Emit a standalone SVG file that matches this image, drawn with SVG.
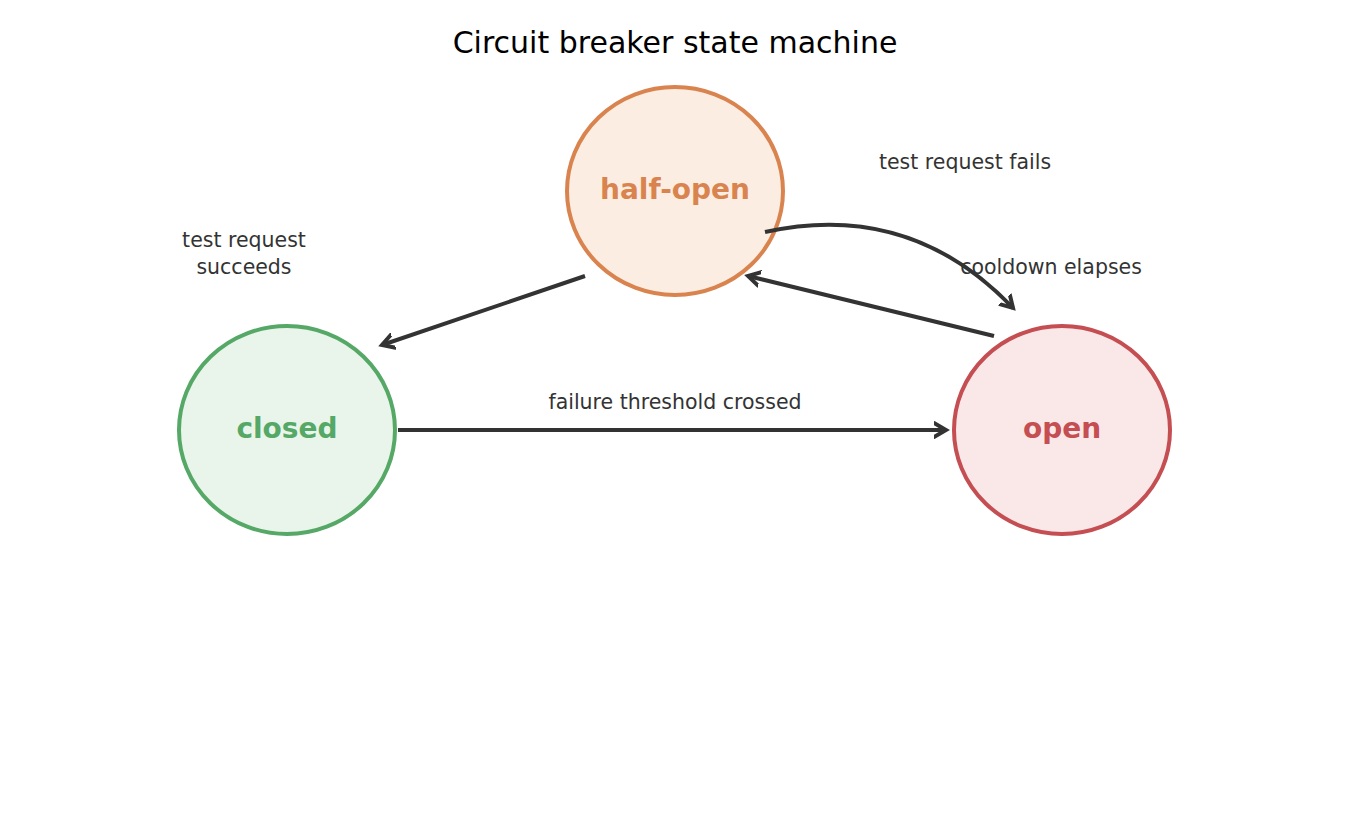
<svg xmlns="http://www.w3.org/2000/svg" width="1350" height="825" viewBox="0 0 1350 825">
<style>
.t{font-family:"DejaVu Sans",sans-serif;fill:#333;font-size:20.5px;text-anchor:middle}
.n{font-family:"DejaVu Sans",sans-serif;font-weight:bold;font-size:28px;text-anchor:middle}
.e{fill:none;stroke:#333;stroke-width:4}
</style>
<defs>
<marker id="a" viewBox="-12 -12 24 24" refX="0" refY="0" markerWidth="24" markerHeight="24" orient="auto" markerUnits="userSpaceOnUse">
<path d="M-12,-7 L0,0 L-12,7" fill="none" stroke="#333" stroke-width="4" stroke-linecap="round" stroke-linejoin="miter"/>
</marker>
</defs>
<rect width="1350" height="825" fill="#fff"/>
<text x="675" y="53" font-family="DejaVu Sans,sans-serif" font-size="30" text-anchor="middle" fill="#000">Circuit breaker state machine</text>
<g id="half-open"><ellipse cx="675" cy="191" rx="108" ry="104" fill="#fcede3" stroke="#d9844f" stroke-width="4"/><text class="n" x="675" y="199" fill="#d9844f">half-open</text></g>
<g id="closed"><ellipse cx="287" cy="430" rx="108" ry="104" fill="#e9f5ea" stroke="#55a866" stroke-width="4"/><text class="n" x="287" y="438" fill="#55a866">closed</text></g>
<g id="open"><ellipse cx="1062" cy="430" rx="108" ry="104" fill="#fae8e8" stroke="#c44e52" stroke-width="4"/><text class="n" x="1062" y="438" fill="#c44e52">open</text></g>
<g id="connectors">
<path class="e" d="M398,430 L946,430" marker-end="url(#a)"/>
<path class="e" d="M994,336 L748,276" marker-end="url(#a)"/>
<path class="e" d="M585,276 L382,345" marker-end="url(#a)"/>
<path class="e" d="M765,232 Q910,200 1013,308" marker-end="url(#a)"/>
<text class="t" x="675" y="409">failure threshold crossed</text>
<text class="t" x="1051" y="274">cooldown elapses</text>
<text class="t" x="965" y="169">test request fails</text>
<text class="t" x="244" y="247">test request</text>
<text class="t" x="244" y="274">succeeds</text>
</g>
</svg>
